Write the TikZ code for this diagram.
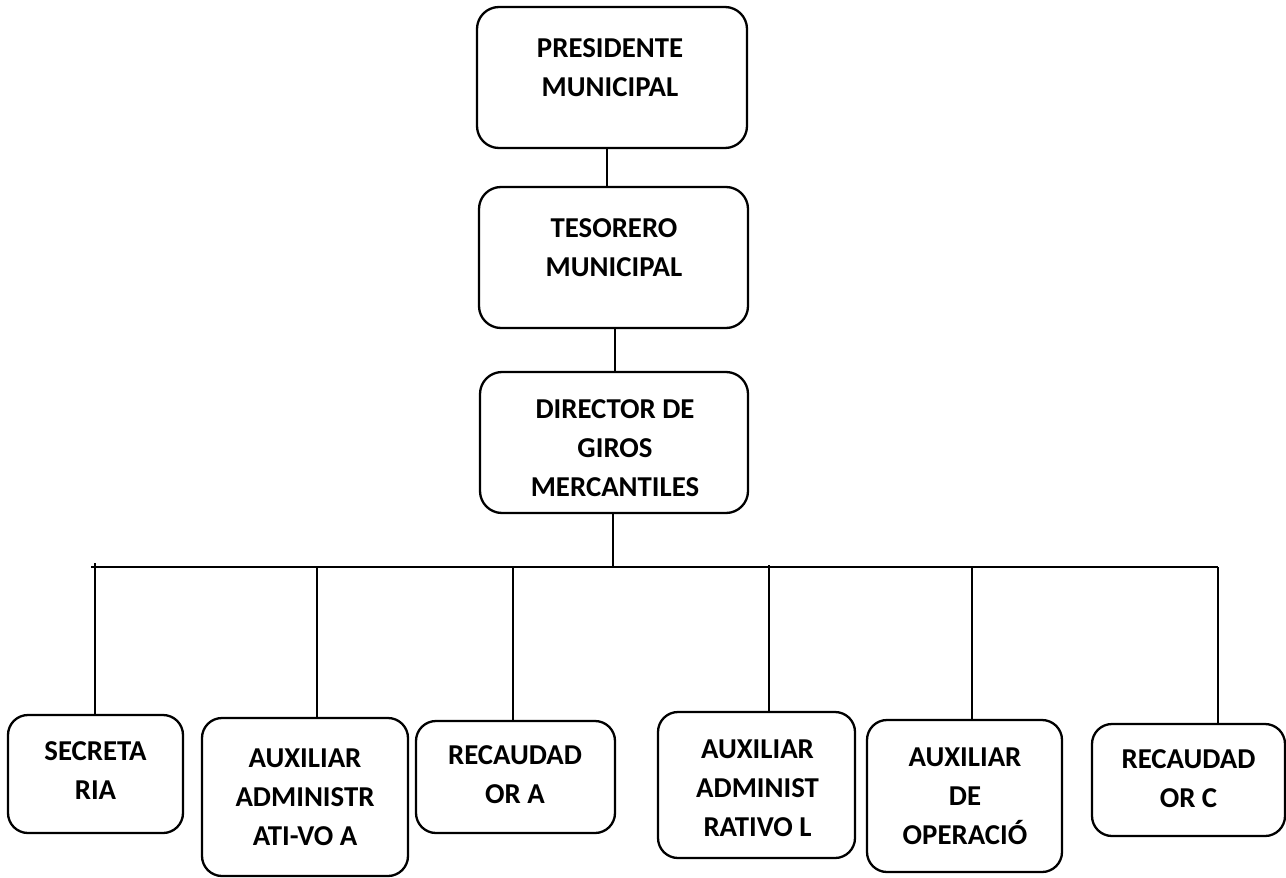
\documentclass[tikz,border=0pt]{standalone}
\usepackage{fontspec}
\setmainfont{Carlito}
\begin{document}
\begin{tikzpicture}[x=1pt,y=-1pt,
  box/.style={draw=black, line width=2.3pt, rounded corners=22pt, inner sep=0pt},
  lbl/.style={font=\fontsize{28.8}{39}\selectfont\bfseries, align=center, inner sep=0pt},
  conn/.style={draw=black, line width=1.2pt}]
\useasboundingbox (0,0) rectangle (1286,878);
% top chain
\node[box, minimum width=270pt, minimum height=141pt] (pres) at (612,77.5) {};
\node[lbl] (presT) at (610,68) {PRESIDENTE\\MUNICIPAL};
\node[box, minimum width=269pt, minimum height=141pt] (teso) at (613.5,257.5) {};
\node[lbl] (tesoT) at (614,247.5) {TESORERO\\MUNICIPAL};
\node[box, minimum width=268pt, minimum height=141pt] (dir) at (614,442.5) {};
\node[lbl] (dirT) at (615,448.5) {DIRECTOR DE\\GIROS\\MERCANTILES};
% bottom row
\begin{scope}[box/.append style={rounded corners=20pt}]
\node[box, minimum width=175pt, minimum height=118pt] (sec) at (95.5,774) {};
\node[lbl] (secT) at (95.5,771) {SECRETA\\RIA};
\node[box, minimum width=206pt, minimum height=158pt] (auxA) at (305,797) {};
\node[lbl] (auxAT) at (305,797) {AUXILIAR\\ADMINISTR\\ATI-VO A};
\node[box, minimum width=199pt, minimum height=112pt] (recA) at (515.5,777) {};
\node[lbl] (recAT) at (515,774.5) {RECAUDAD\\OR A};
\node[box, minimum width=197pt, minimum height=146pt] (auxL) at (756.5,785) {};
\node[lbl] (auxLT) at (757.5,788.5) {AUXILIAR\\ADMINIST\\RATIVO L};
\node[box, minimum width=195pt, minimum height=152pt] (auxO) at (964.5,796) {};
\node[lbl] (auxOT) at (965,796.5) {AUXILIAR\\DE\\OPERACIÓ};
\node[box, minimum width=193pt, minimum height=112pt] (recC) at (1188.5,780) {};
\node[lbl] (recCT) at (1188.5,779) {RECAUDAD\\OR C};
\end{scope}
% connectors
\draw[conn] ([xshift=-5pt]pres.south) -- ([xshift=-6.5pt]teso.north);
\draw[conn] ([xshift=1.5pt]teso.south) -- ([xshift=1pt]dir.north);
\coordinate (bl) at (91,567);
\coordinate (br) at (1218,567);
\coordinate (bd) at (613,567);
\draw[conn] ([xshift=-1pt]dir.south) -- (bd);
\draw[conn] (bl) -- (br);
\coordinate (d1) at (95,563);
\coordinate (d2) at (317,567);
\coordinate (d3) at (513,567);
\coordinate (d4) at (769,565);
\coordinate (d5) at (972,567);
\draw[conn] (d1) -- (d1 |- sec.north);
\draw[conn] (d2) -- (d2 |- auxA.north);
\draw[conn] (d3) -- (d3 |- recA.north);
\draw[conn] (d4) -- (d4 |- auxL.north);
\draw[conn] (d5) -- (d5 |- auxO.north);
\draw[conn] (br) -- (br |- recC.north);
\end{tikzpicture}
\end{document}
